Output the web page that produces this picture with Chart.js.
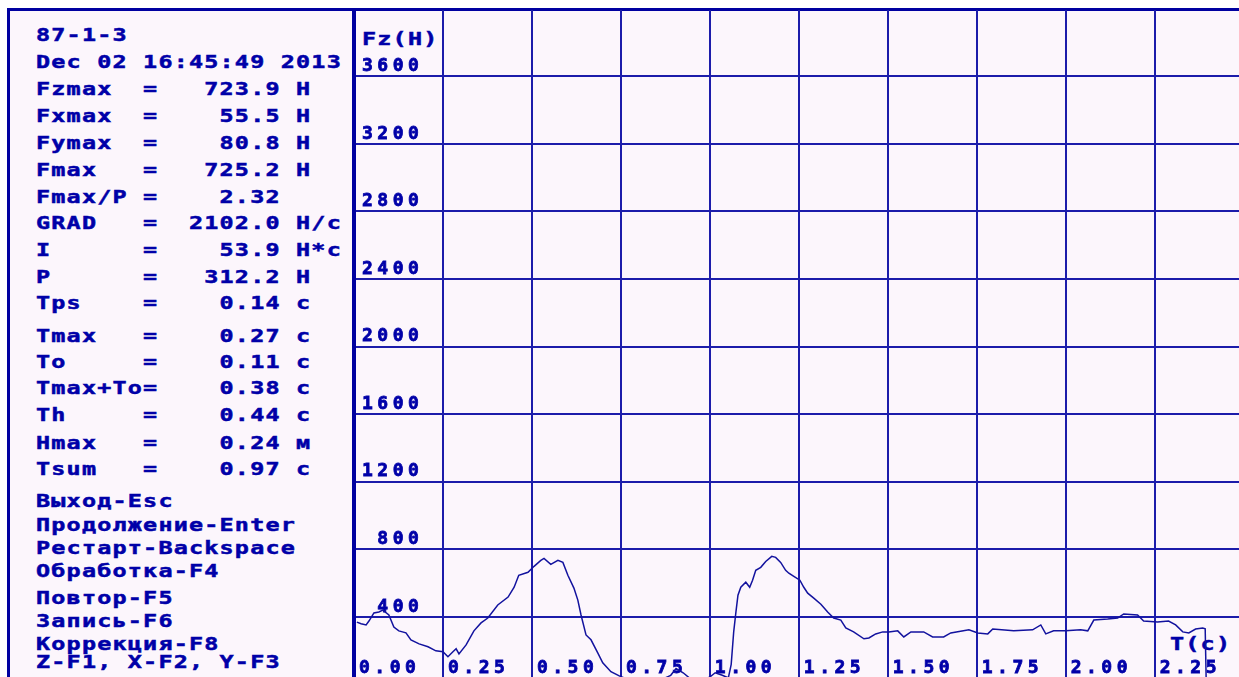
<!DOCTYPE html>
<html>
<head>
<meta charset="utf-8">
<script src="https://cdn.jsdelivr.net/npm/chart.js@4.4.0/dist/chart.umd.min.js"></script>
<style>
  html, body { margin: 0; padding: 0; background: #fff; overflow: hidden; }
  #screen {
    position: absolute; left: 7px; top: 8px; width: 1232px; height: 669px;
    background: #fcf6fc; border-top: 3px solid #0000a0; border-left: 3px solid #0000a0;
    box-sizing: border-box;
  }
  .txt {
    position: absolute; white-space: pre; color: #0000a8;
    font: bold 18px/18px "DejaVu Sans Mono", monospace;
    letter-spacing: 0.93px; transform: scaleX(1.3); transform-origin: 0 0;
    -webkit-text-stroke: 0.5px #0000a8;
  }
  #fzChart { position: absolute; left: 0; top: 0; }
</style>
</head>
<body>
<div id="screen"></div>
<div id="panel"></div>
<canvas id="fzChart" width="1239" height="677"></canvas>
<script>
// time (c) and vertical force Fz (H)
const tValues = [
  0.008, 0.02, 0.034, 0.042, 0.056, 0.07, 0.081, 0.098, 0.112, 0.126, 0.146, 0.16,
  0.183, 0.208, 0.23, 0.25, 0.264, 0.278, 0.287, 0.295, 0.315, 0.337, 0.357, 0.376,
  0.404, 0.433, 0.45, 0.463, 0.489, 0.506, 0.525, 0.534, 0.553, 0.573, 0.587, 0.601,
  0.618, 0.629, 0.638, 0.652, 0.666, 0.685, 0.699, 0.722, 0.744, 0.77, 0.81, 0.86,
  0.89, 0.905, 0.925, 0.945, 0.975, 1.0, 1.015, 1.035, 1.052, 1.06, 1.067, 1.073,
  1.079, 1.087, 1.101, 1.112, 1.12, 1.129, 1.143, 1.157, 1.174, 1.185, 1.199, 1.213,
  1.222, 1.236, 1.253, 1.264, 1.275, 1.292, 1.312, 1.331, 1.348, 1.368, 1.382, 1.404,
  1.433, 1.447, 1.466, 1.486, 1.503, 1.528, 1.545, 1.565, 1.601, 1.626, 1.657, 1.677,
  1.728, 1.753, 1.781, 1.795, 1.854, 1.907, 1.93, 1.944, 1.966, 2.0, 2.042, 2.062,
  2.079, 2.118, 2.146, 2.163, 2.202, 2.219, 2.258, 2.289, 2.309, 2.329, 2.346, 2.365,
  2.385, 2.392, 2.395
];
const fzValues = [
  370, 360, 353, 376, 424, 430, 441, 412, 341, 318, 306, 265,
  241, 224, 200, 194, 165, 194, 212, 182, 235, 318, 365, 394,
  471, 518, 576, 647, 665, 700, 735, 747, 712, 735, 723, 647,
  571, 500, 412, 294, 265, 188, 129, 76, 53, 30, 15, 25,
  55, 95, 70, 35, 20, 45, 70, 55, 40, 120, 312, 424,
  529, 576, 606, 576, 618, 676, 694, 729, 759, 753, 723, 676,
  659, 641, 618, 576, 541, 512, 476, 429, 394, 382, 335, 312,
  271, 276, 300, 312, 312, 318, 282, 312, 312, 282, 282, 306,
  324, 306, 300, 329, 318, 324, 353, 300, 318, 318, 324, 318,
  382, 388, 394, 418, 412, 376, 371, 376, 353, 312, 306, 329,
  335, 330, 0
];
const xTickValues = [0, 0.25, 0.5, 0.75, 1.0, 1.25, 1.5, 1.75, 2.0, 2.25];
const yTickValues = [400, 800, 1200, 1600, 2000, 2400, 2800, 3200, 3600];

const panelLines = [
  ['87-1-3', 35],
  ['Dec 02 16:45:49 2013', 62],
  ['Fzmax  =   723.9 Н', 89],
  ['Fxmax  =    55.5 Н', 116],
  ['Fymax  =    80.8 Н', 143],
  ['Fmax   =   725.2 Н', 170],
  ['Fmax/P =    2.32', 197],
  ['GRAD   =  2102.0 Н/с', 223],
  ['I      =    53.9 Н*с', 250],
  ['P      =   312.2 Н', 277],
  ['Tps    =    0.14 с', 303],
  ['Tmax   =    0.27 с', 336],
  ['To     =    0.11 с', 362],
  ['Tmax+To=    0.38 с', 388],
  ['Th     =    0.44 с', 415],
  ['Hmax   =    0.24 м', 443],
  ['Tsum   =    0.97 с', 469],
  ['Выход-Esc', 501],
  ['Продолжение-Enter', 525],
  ['Рестарт-Backspace', 548],
  ['Обработка-F4', 571],
  ['Повтор-F5', 598],
  ['Запись-F6', 621],
  ['Коррекция-F8', 644],
  ['Z-F1, X-F2, Y-F3', 662],
];

const panel = document.getElementById('panel');
function addText(text, x, yCenter) {
  const el = document.createElement('div');
  el.className = 'txt';
  el.textContent = text;
  el.style.left = x + 'px';
  el.style.top = (yCenter - 8.7) + 'px';
  panel.appendChild(el);
}
panelLines.forEach(([text, y]) => addText(text, 36, y));
addText('Fz(Н)', 362, 39);
addText('T(с)', 1170, 644);

const blue = '#0000a8';
const gridBlue = '#1c1caa';
const tickFont = { family: '"DejaVu Sans Mono", monospace', weight: 'bold', size: 18, lineHeight: 1 };

const spacing = {
  id: 'spacing',
  beforeUpdate(chart) { chart.ctx.letterSpacing = '4.5px'; },
  beforeDraw(chart) { chart.ctx.letterSpacing = '4.5px'; },
};

new Chart(document.getElementById('fzChart'), {
  type: 'line',
  data: {
    datasets: [{
      data: tValues.map((t, i) => ({ x: t, y: fzValues[i] })),
      borderColor: '#12129e',
      borderWidth: 1.5,
      pointRadius: 0,
      tension: 0,
      fill: false,
    }],
  },
  options: {
    responsive: false,
    animation: false,
    layout: { padding: { left: 354, top: 10, right: 0, bottom: 0 } },
    plugins: { legend: { display: false }, tooltip: { enabled: false } },
    scales: {
      x: {
        type: 'linear', min: 0, max: 2.487,
        afterBuildTicks: (s) => { s.ticks = xTickValues.map((v) => ({ value: v })); },
        afterFit: (s) => { s.height = 0; s.paddingLeft = 0; s.paddingRight = 0; },
        grid: { color: gridBlue, lineWidth: 2, drawTicks: false },
        border: { display: false },
        ticks: {
          mirror: true, align: 'start', labelOffset: 5, padding: 0,
          autoSkip: false, maxRotation: 0, minRotation: 0,
          color: blue, font: tickFont, textStrokeColor: blue, textStrokeWidth: 0.8,
          callback: (v) => Number(v).toFixed(2),
        },
      },
      y: {
        type: 'linear', min: 45, max: 3992,
        afterBuildTicks: (s) => { s.ticks = yTickValues.map((v) => ({ value: v })); },
        afterFit: (s) => { s.width = 0; s.paddingTop = 0; s.paddingBottom = 0; },
        grid: { color: gridBlue, lineWidth: 2, drawTicks: false },
        border: { display: true, color: '#0000a0', width: 4 },
        ticks: {
          mirror: true, crossAlign: 'far', padding: 8, labelOffset: -10,
          color: blue, font: tickFont, textStrokeColor: blue, textStrokeWidth: 0.8,
          callback: (v) => String(v),
        },
      },
    },
  },
  plugins: [spacing],
});
</script>
</body>
</html>
